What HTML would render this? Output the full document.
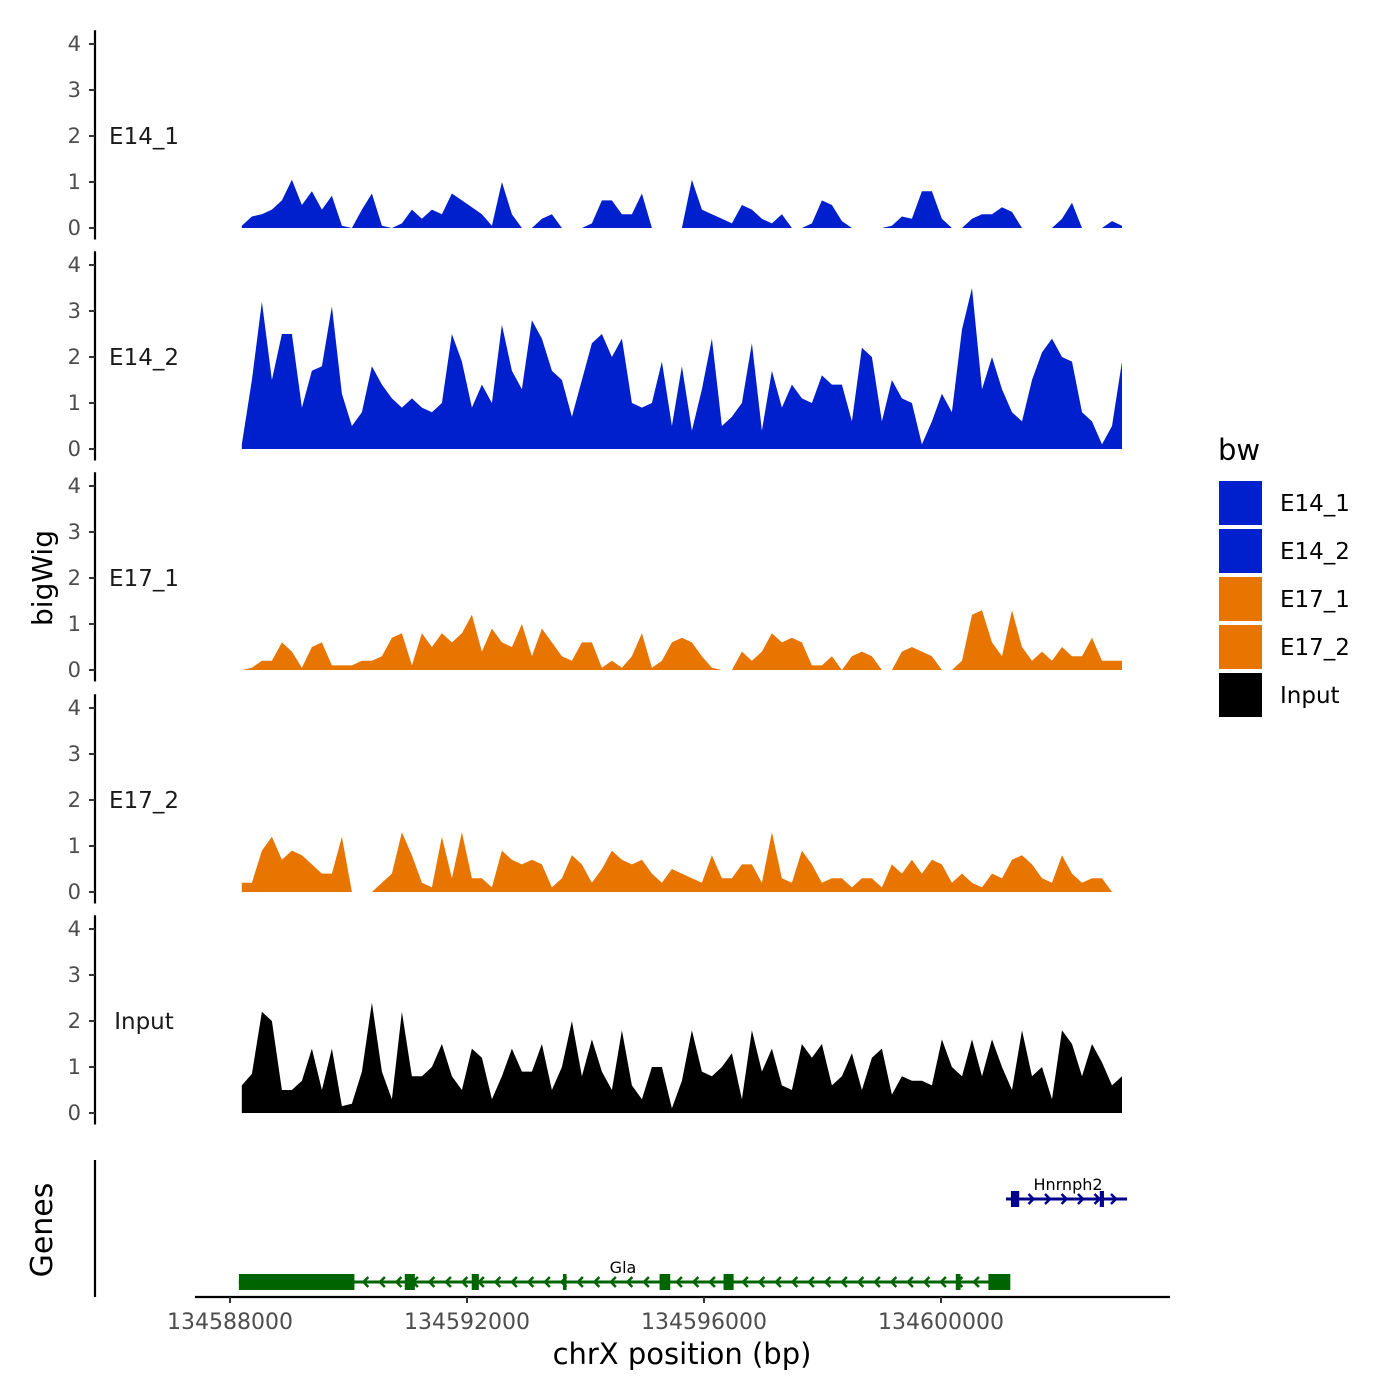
<!DOCTYPE html>
<html><head><meta charset="utf-8"><style>
body{margin:0;background:#fff;}
svg{display:block;font-family:"DejaVu Sans","Liberation Sans",sans-serif;}
</style></head><body>
<svg id="chart" width="1400" height="1400" viewBox="0 0 1400 1400" xmlns="http://www.w3.org/2000/svg">
<rect width="1400" height="1400" fill="#fff"/>
<g id="panels"></g>
<g id="genes"></g>
<g id="xaxis"></g>
<text x="52" y="578" transform="rotate(-90 52 578)" text-anchor="middle" font-size="28" fill="#000">bigWig</text>
<text x="52" y="1230" transform="rotate(-90 52 1230)" text-anchor="middle" font-size="30" fill="#000">Genes</text>
<text x="682" y="1364" text-anchor="middle" font-size="29" fill="#000">chrX position (bp)</text>
<g id="legend"></g>
</svg>
<script>
const trackNames = ["E14_1","E14_2","E17_1","E17_2","Input"];
const trackColors = ["#0020CD","#0020CD","#E87500","#E87500","#000000"];
const binStart = 134588200;
const binStep = 168.8;
const e14_1 = [0.05,0.25,0.3,0.4,0.6,1.05,0.5,0.8,0.4,0.7,0.05,0,0.4,0.75,0.05,0,0.1,0.4,0.2,0.4,0.3,0.75,0.6,0.45,0.3,0.05,1.0,0.3,0,0,0.2,0.3,0,0,0,0.1,0.6,0.6,0.3,0.3,0.75,0,0,0,0,1.05,0.4,0.3,0.2,0.1,0.5,0.4,0.2,0.1,0.3,0,0,0.1,0.6,0.5,0.15,0,0,0,0,0.05,0.25,0.2,0.8,0.8,0.2,0,0,0.2,0.3,0.3,0.45,0.35,0,0,0,0,0.2,0.55,0,0,0,0.15,0.05];
const e14_2 = [0.1,1.5,3.2,1.5,2.5,2.5,0.9,1.7,1.8,3.1,1.2,0.5,0.8,1.8,1.4,1.1,0.9,1.1,0.9,0.8,1.0,2.5,1.9,0.9,1.4,1.0,2.7,1.7,1.3,2.8,2.4,1.7,1.5,0.7,1.5,2.3,2.5,2.0,2.4,1.0,0.9,1.0,1.9,0.5,1.8,0.4,1.3,2.4,0.5,0.7,1.0,2.3,0.4,1.7,0.9,1.4,1.1,1.0,1.6,1.4,1.4,0.6,2.2,2.0,0.6,1.5,1.1,1.0,0.1,0.6,1.2,0.8,2.6,3.5,1.3,2.0,1.3,0.8,0.6,1.5,2.1,2.4,2.0,1.9,0.8,0.6,0.1,0.5,1.9];
const e17_1 = [0,0.05,0.2,0.2,0.6,0.4,0.05,0.5,0.6,0.1,0.1,0.1,0.2,0.2,0.3,0.7,0.8,0.1,0.8,0.5,0.8,0.6,0.8,1.2,0.4,0.9,0.6,0.5,1.0,0.3,0.9,0.6,0.3,0.2,0.6,0.6,0.05,0.2,0.05,0.3,0.8,0.05,0.2,0.6,0.7,0.6,0.3,0.05,0,0,0.4,0.2,0.4,0.8,0.6,0.7,0.6,0.1,0.1,0.3,0,0.3,0.4,0.3,0,0,0.4,0.5,0.4,0.3,0,0,0.2,1.2,1.3,0.6,0.3,1.3,0.5,0.2,0.4,0.2,0.5,0.3,0.3,0.7,0.2,0.2,0.2];
const e17_2 = [0.2,0.2,0.9,1.2,0.7,0.9,0.8,0.6,0.4,0.4,1.2,0,0,0,0.2,0.4,1.3,0.8,0.2,0.1,1.2,0.3,1.3,0.3,0.3,0.1,0.9,0.7,0.6,0.7,0.6,0.1,0.3,0.8,0.6,0.2,0.5,0.9,0.7,0.6,0.7,0.4,0.2,0.5,0.4,0.3,0.2,0.8,0.3,0.3,0.6,0.6,0.2,1.3,0.3,0.2,0.9,0.6,0.2,0.3,0.3,0.1,0.3,0.3,0.1,0.6,0.4,0.7,0.4,0.7,0.6,0.2,0.4,0.2,0.1,0.4,0.3,0.7,0.8,0.6,0.3,0.2,0.8,0.4,0.2,0.3,0.3,0,0];
const input = [0.6,0.85,2.2,2.0,0.5,0.5,0.7,1.4,0.5,1.4,0.15,0.2,0.9,2.4,0.9,0.3,2.2,0.8,0.8,1.0,1.5,0.8,0.5,1.4,1.2,0.3,0.8,1.4,0.9,0.9,1.5,0.5,1.0,2.0,0.8,1.6,0.9,0.5,1.8,0.6,0.3,1.0,1.0,0.1,0.7,1.8,0.9,0.8,1.0,1.3,0.3,1.8,0.9,1.4,0.6,0.5,1.5,1.2,1.5,0.6,0.8,1.3,0.5,1.2,1.4,0.4,0.8,0.7,0.7,0.6,1.6,1.0,0.8,1.6,0.8,1.6,1.0,0.5,1.8,0.8,1.0,0.3,1.8,1.5,0.8,1.5,1.1,0.6,0.8];
const yTicks = [0,1,2,3,4];
const xTicks = [134588000,134592000,134596000,134600000];
const xTickLabels = ["134588000","134592000","134596000","134600000"];
const glaExons = [[134588150,134590100],[134590950,134591120],[134592080,134592200],[134593620,134593680],[134595250,134595430],[134596330,134596500],[134600250,134600330],[134600800,134601170]];
const hnExons = [[134601180,134601320],[134602680,134602750]];

const NS="http://www.w3.org/2000/svg";
function xs(bp){return 230+(bp-134588000)*(711/12000);}
const panelBase=[228,449,670,892,1113];
function ys(p,v){return panelBase[p]-v*46;}
function mk(tag,attrs,parent){const e=document.createElementNS(NS,tag);for(const k in attrs)e.setAttribute(k,attrs[k]);parent.appendChild(e);return e;}

const series=[e14_1,e14_2,e17_1,e17_2,input];
const panels=document.getElementById('panels');
series.forEach((vals,p)=>{
  const g=mk('g',{},panels);
  
  
  let d='M'+xs(binStart).toFixed(1)+','+ys(p,0);
  vals.forEach((v,i)=>{d+=' L'+xs(binStart+i*binStep).toFixed(1)+','+ys(p,v).toFixed(1);});
  d+=' L'+xs(binStart+(vals.length-1)*binStep).toFixed(1)+','+ys(p,0)+' Z';
  const a=mk('path',{d:d,fill:trackColors[p]},g);
  
  
  const ax=mk('line',{x1:95,x2:95,y1:ys(p,4.3),y2:ys(p,-0.25),stroke:'#000','stroke-width':2.2},g);
  
  
  yTicks.forEach(t=>{
    mk('line',{x1:89,x2:95,y1:ys(p,t),y2:ys(p,t),stroke:'#333','stroke-width':2},g);
    const tx=mk('text',{x:81,y:ys(p,t)+7,'text-anchor':'end','font-size':21,fill:'#4d4d4d'},g);
    tx.textContent=t;
    
    
  });
  const lb=mk('text',{x:144,y:ys(p,2)+8,'text-anchor':'middle','font-size':23,fill:'#1a1a1a'},g);
  lb.textContent=trackNames[p];
  
  
});

// genes
const gg=document.getElementById('genes');
mk('line',{x1:95,x2:95,y1:1160,y2:1297,stroke:'#000','stroke-width':2.2},gg);
function gene(s,e,y,color,exons,dir,name,labx){
  mk('line',{x1:xs(s),x2:xs(e),y1:y,y2:y,stroke:color,'stroke-width':3},gg);
  for(let x=xs(s)+10;x<xs(e)-4;x+=16.5){
    const pts=dir<0?`${x+4},${y-5} ${x-1},${y} ${x+4},${y+5}`:`${x-4},${y-5} ${x+1},${y} ${x-4},${y+5}`;
    mk('polyline',{points:pts,fill:'none',stroke:color,'stroke-width':2.5},gg);
  }
  exons.forEach(ex=>{const r=mk('rect',{x:xs(ex[0]),y:y-8,width:Math.max(3,xs(ex[1])-xs(ex[0])),height:16,fill:color},gg);
    
    });
  const t=mk('text',{x:labx,y:y-9,'text-anchor':'middle','font-size':16,fill:'#000'},gg);
  t.textContent=name;
  
  
}
gene(134588150,134601130,1282,'#006400',glaExons,-1,'Gla',623);
gene(134601097,134603140,1199,'#00008B',hnExons,1,'Hnrnph2',1068);

// x axis
const xa=document.getElementById('xaxis');
mk('line',{x1:195,x2:1170,y1:1297,y2:1297,stroke:'#000','stroke-width':2.2},xa);
xTicks.forEach((t,i)=>{
  mk('line',{x1:xs(t),x2:xs(t),y1:1297,y2:1303,stroke:'#333','stroke-width':2},xa);
  const tx=mk('text',{x:xs(t),y:1329,'text-anchor':'middle','font-size':22,fill:'#4d4d4d'},xa);
  tx.textContent=xTickLabels[i];
  
  
});

// legend
const lg=document.getElementById('legend');
const lt=mk('text',{x:1218,y:460,'font-size':29,fill:'#000'},lg);
lt.textContent='bw';


trackNames.forEach((n,i)=>{
  const y=480+i*48;
  const r=mk('rect',{x:1218,y:y,width:45,height:46,fill:trackColors[i],stroke:'#fff','stroke-width':2},lg);
  
  
  const t=mk('text',{x:1280,y:y+31,'font-size':23,fill:'#000'},lg);
  t.textContent=n;
  
  
});
</script>
</body></html>
